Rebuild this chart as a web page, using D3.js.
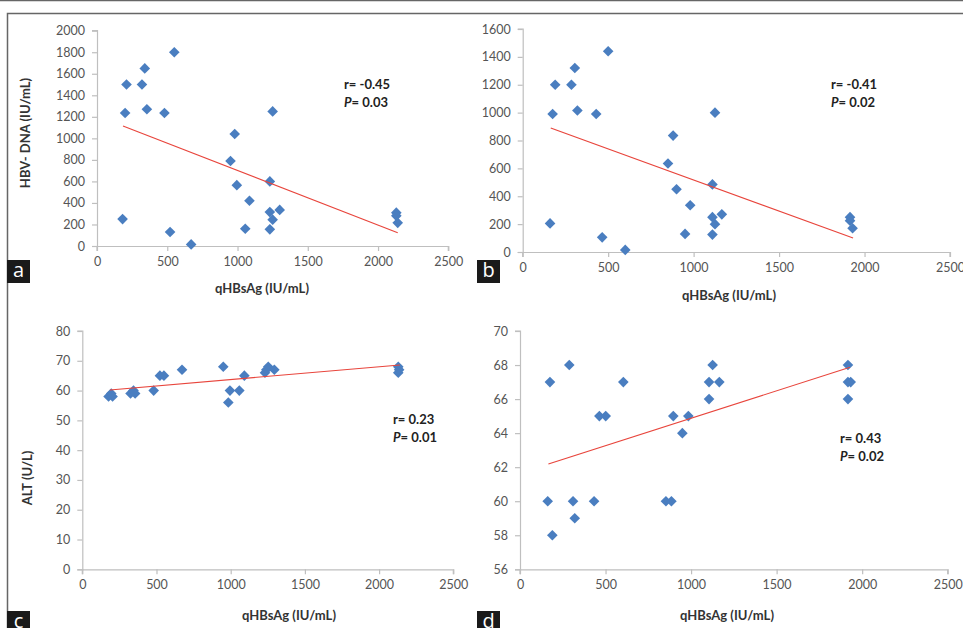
<!DOCTYPE html>
<html>
<head>
<meta charset="utf-8">
<script src="https://cdn.jsdelivr.net/npm/d3@7/dist/d3.min.js"></script>
<style>
  html, body { margin: 0; padding: 0; background: #fff; }
  svg { display: block; font-family: Lato, "Open Sans", sans-serif; }
</style>
</head>
<body>
<svg id="fig" width="963" height="628"></svg>
<script>
// ── Data ────────────────────────────────────────────────
const aX = [182, 210, 200, 340, 320, 355, 480, 550, 520, 670, 980, 950, 995, 1085, 1055, 1250, 1230, 1230, 1250, 1300, 1230, 2130, 2130, 2140];
const aY = [250, 1500, 1235, 1650, 1500, 1270, 1235, 1800, 130, 15, 1040, 790, 565, 420, 160, 1250, 600, 315, 245, 335, 155, 310, 280, 215];
const aFit = [[185, 1115], [2140, 124]];

const bX = [160, 175, 190, 285, 305, 320, 430, 465, 500, 600, 850, 880, 900, 980, 950, 1110, 1125, 1110, 1125, 1165, 1110, 1915, 1915, 1930];
const bY = [205, 990, 1200, 1200, 1320, 1015, 990, 105, 1440, 15, 635, 835, 450, 335, 130, 485, 1000, 250, 200, 270, 125, 250, 225, 170];
const bFit = [[164, 890], [1933, 100]];

const cX = [177, 204, 195, 325, 345, 356, 481, 523, 550, 672, 950, 984, 995, 1058, 1092, 1231, 1240, 1253, 1294, 2129, 2135, 2129];
const cY = [58, 58, 59, 59, 60, 59, 60, 65, 65, 67, 68, 56, 60, 60, 65, 66, 67, 68, 67, 68, 67, 66];
const cFit = [[186, 60.2], [2140, 68.6]];

const dX = [162, 175, 189, 288, 310, 320, 433, 464, 501, 604, 853, 885, 896, 949, 984, 1105, 1105, 1126, 1165, 1917, 1917, 1933, 1917];
const dY = [60, 67, 58, 68, 60, 59, 60, 65, 65, 67, 60, 60, 65, 64, 65, 66, 67, 68, 67, 68, 67, 67, 66];
const dFit = [[166, 62.19], [1929, 67.87]];

const xTicks = [0, 500, 1000, 1500, 2000, 2500];

const panels = [
  { id: 'a', xs: aX, ys: aY, fit: aFit, yDom: [0, 2000], yTicks: d3.range(0, 2001, 200),
    px: [97, 448.3], py: [246, 30.7], yTitle: 'HBV- DNA (IU/mL)', yTitlePos: [25, 133],
    xTitleY: 288, xTitleX: 262, ann: [344, 84], tag: [7, 260] },
  { id: 'b', xs: bX, ys: bY, fit: bFit, yDom: [0, 1600], yTicks: d3.range(0, 1601, 200),
    px: [522.7, 950], py: [252, 29], yTitle: null,
    xTitleY: 295, xTitleX: 729, ann: [831, 84], tag: [477, 260] },
  { id: 'c', xs: cX, ys: cY, fit: cFit, yDom: [0, 80], yTicks: d3.range(0, 81, 10),
    px: [82.3, 453.3], py: [569.3, 331], yTitle: 'ALT (U/L)', yTitlePos: [27, 478],
    xTitleY: 615, xTitleX: 289, ann: [393, 419], tag: [7, 611] },
  { id: 'd', xs: dX, ys: dY, fit: dFit, yDom: [56, 70], yTicks: d3.range(56, 71, 2),
    px: [520, 947.7], py: [569.3, 331], yTitle: null,
    xTitleY: 615, xTitleX: 727, ann: [840, 438], tag: [477, 611] },
];
const annText = { a: ['-0.45', '0.03'], b: ['-0.41', '0.02'], c: ['0.23', '0.01'], d: ['0.43', '0.02'] };

const BLUE = '#4a7ec0', RED = '#e8453c', AXIS = '#bfbfbf', TXT = '#555';

const svg = d3.select('#fig');

// ── Frame lines ─────────────────────────────────────────
svg.append('line').attr('x1', 0).attr('x2', 963).attr('y1', 0.5).attr('y2', 0.5)
  .attr('stroke', '#666').attr('stroke-width', 1.5);
svg.append('path').attr('d', 'M7.5,628 V13.5 H963')
  .attr('fill', 'none').attr('stroke', '#666').attr('stroke-width', 1.5);

const diamond = d3.symbol().type(d3.symbolDiamond2).size(72);

panels.forEach(p => {
  const x = d3.scaleLinear().domain([0, 2500]).range(p.px);
  const y = d3.scaleLinear().domain(p.yDom).range(p.py);
  const g = svg.append('g');

  // axes
  const xAxis = g.append('g').attr('transform', `translate(0,${p.py[0]})`)
    .call(d3.axisBottom(x).tickValues(xTicks).tickSize(5).tickPadding(6).tickFormat(d3.format('d')));
  const yAxis = g.append('g').attr('transform', `translate(${p.px[0]},0)`)
    .call(d3.axisLeft(y).tickValues(p.yTicks).tickSize(5).tickPadding(7).tickFormat(d3.format('d')));
  [xAxis, yAxis].forEach(ax => {
    ax.select('.domain').attr('stroke', AXIS).attr('stroke-width', 1.2);
    ax.selectAll('.tick line').attr('stroke', AXIS).attr('stroke-width', 1.2);
    ax.selectAll('.tick text').attr('fill', TXT).attr('font-size', 12.5)
      .attr('font-family', 'Lato, sans-serif');
  });
  yAxis.select('.domain').attr('d', `M-5,${p.py[0] + 0.5}H0.5V${p.py[1]}H-5`);
  xAxis.select('.domain').attr('d', `M${p.px[0]},5V0.5H${p.px[1]}V5`);

  // points
  g.append('g').selectAll('path').data(p.xs.map((v, i) => [v, p.ys[i]])).join('path')
    .attr('d', diamond)
    .attr('transform', d => `translate(${x(d[0])},${y(d[1])})`)
    .attr('fill', BLUE);

  // trend line
  g.append('line')
    .attr('x1', x(p.fit[0][0])).attr('y1', y(p.fit[0][1]))
    .attr('x2', x(p.fit[1][0])).attr('y2', y(p.fit[1][1]))
    .attr('stroke', RED).attr('stroke-width', 1.1);

  // titles
  g.append('text').attr('x', p.xTitleX).attr('y', p.xTitleY).attr('dy', '0.35em')
    .attr('text-anchor', 'middle').attr('font-weight', 'bold').attr('font-size', 13)
    .attr('fill', '#333').text('qHBsAg (IU/mL)');
  if (p.yTitle) {
    g.append('text')
      .attr('transform', `translate(${p.yTitlePos[0]},${p.yTitlePos[1]}) rotate(-90)`)
      .attr('dy', '0.35em').attr('text-anchor', 'middle').attr('font-weight', 'bold')
      .attr('font-size', 13).attr('fill', '#333').text(p.yTitle);
  }

  // r / P annotation
  const [r, pv] = annText[p.id];
  const t1 = g.append('text').attr('x', p.ann[0]).attr('y', p.ann[1]).attr('dy', '0.35em')
    .attr('font-weight', 'bold').attr('font-size', 13).attr('fill', '#222');
  t1.text('r= ' + r);
  const t2 = g.append('text').attr('x', p.ann[0]).attr('y', p.ann[1] + 18).attr('dy', '0.35em')
    .attr('font-weight', 'bold').attr('font-size', 13).attr('fill', '#222');
  t2.append('tspan').attr('font-style', 'italic').text('P');
  t2.append('tspan').text('= ' + pv);

  // panel tag (c and d are cropped by the bottom edge, as in the source figure)
  const tag = svg.append('g').attr('transform', `translate(${p.tag[0]},${p.tag[1]})`);
  tag.append('rect').attr('width', 23).attr('height', 23).attr('fill', '#1a1a1a');
  tag.append('text').attr('x', 11.5).attr('y', 17).attr('text-anchor', 'middle')
    .attr('fill', '#fff').attr('font-size', 20).attr('font-family', '"Open Sans", sans-serif')
    .text(p.id);
});
</script>
</body>
</html>
